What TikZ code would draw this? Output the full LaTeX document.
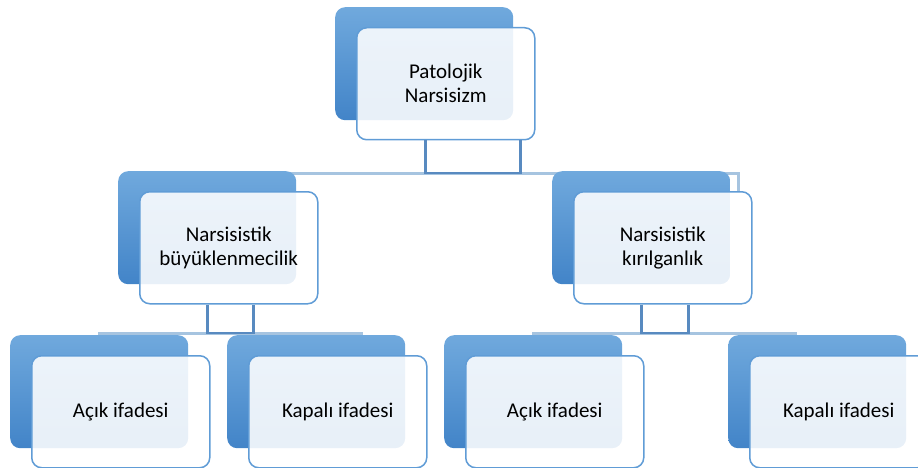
\documentclass[tikz,border=0pt]{standalone}
\usepackage{fontspec}
\setmainfont{Carlito}
\definecolor{backtop}{RGB}{112,169,221}
\definecolor{backbot}{RGB}{66,132,200}
\definecolor{frameline}{RGB}{96,156,214}
\definecolor{stemline}{RGB}{88,138,192}
\definecolor{busline}{RGB}{166,196,224}
\begin{document}
\begin{tikzpicture}[x=1pt,y=-1pt,
    back/.style={anchor=north west,inner sep=0pt,minimum width=178pt,minimum height=113pt,
      rounded corners=10pt,top color=backtop,bottom color=backbot},
    front/.style={anchor=north west,inner sep=2pt,minimum width=178pt,minimum height=112pt,
      rounded corners=10pt,draw=frameline,line width=1.5pt,fill=white,fill opacity=0.88,
      text opacity=1,align=center,font=\fontsize{21}{24}\selectfont},
    stem/.style={draw=stemline,line width=2.8pt},
    bus/.style={draw=busline,line width=3pt}]

       \useasboundingbox (0,0) rectangle (918,468);
       \clip (0,0) rectangle (918,468);

       \coordinate (l1) at (210,173);
       \coordinate (r1) at (738,173);
       \coordinate (l2) at (98,333);
       \coordinate (r2) at (363,333);
       \coordinate (l3) at (532,333);
       \coordinate (r3) at (797,333);

       \draw[bus] (l1) -- (r1) -- (r1 |- 0,192);
       \draw[bus] (l2) -- (r2);
       \draw[bus] (l3) -- (r3);

       \node[back] (b1) at (335,7) {};
       \node[back] (b2) at (118,171) {};
       \node[back] (b3) at (552,171) {};
       \node[back] (b4) at (10,335) {};
       \node[back] (b5) at (227,335) {};
       \node[back] (b6) at (444,335) {};
       \node[back] (b7) at (728,335) {};

       \node[front] (1) at (356,27) {Patolojik\\Narsisizm};
       \node[front] (2) at (139,191) {Narsisistik\\büyüklenmecilik};
       \node[front] (3) at (573,191) {Narsisistik\\kırılganlık};
       \node[front] (4) at (31,355) {Açık ifadesi};
       \node[front] (5) at (248,355) {Kapalı ifadesi};
       \node[front] (6) at (465,355) {Açık ifadesi};
       \node[front] (7) at (749,355) {Kapalı ifadesi};

       \draw[stem] ([xshift=-20pt]1.south) -- ([xshift=-20pt]1.south |- l1) -| ([xshift=75pt]1.south);
       \draw[stem] ([xshift=-21pt]2.south) -- ([xshift=-21pt]2.south |- l2) -| ([xshift=25pt]2.south);
       \draw[stem] ([xshift=-21pt]3.south) -- ([xshift=-21pt]3.south |- l3) -| ([xshift=26pt]3.south);
     \end{tikzpicture}
\end{document}
